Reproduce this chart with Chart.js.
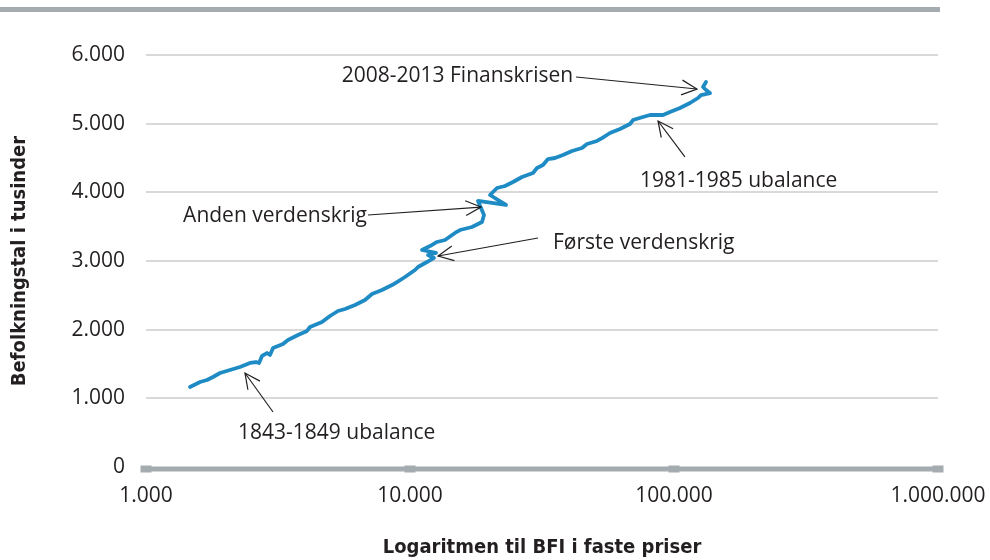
<!DOCTYPE html>
<html>
<head>
<meta charset="utf-8">
<script src="https://cdn.jsdelivr.net/npm/chart.js@4.4.1/dist/chart.umd.min.js"></script>
<style>
  html, body { margin: 0; padding: 0; background: #fff; }
  #wrap { position: relative; width: 990px; height: 560px; }
  #topbar { position: absolute; left: 0; top: 7px; width: 940px; height: 5px; background: #a5acaf; }
  canvas { position: absolute; left: 0; top: 0; }
</style>
</head>
<body>
<div id="wrap">
  <canvas id="chart" width="990" height="560"></canvas>
  <div id="topbar"></div>
</div>
<script>
// BFI i faste priser (x, log-akse) og befolkningstal i tusinder (y)
const bfi = [1468, 1602, 1702, 1794, 1907, 2081, 2270, 2477, 2610, 2680,
  2751, 2873, 2949, 3028, 3303, 3450, 3764, 4073, 4181, 4642,
  4977, 5337, 5673, 6190, 6753, 7178, 7832, 8545, 8926, 9573,
  10446, 10723, 11598, 12328, 11700, 12545, 11103, 11906, 12655, 13569,
  14805, 15465, 17174, 18738, 19068, 18095, 23101, 20095, 21355, 22900,
  24557, 26563, 29235, 30272, 31898, 33320, 35414, 37970, 41078, 44822,
  46819, 51087, 53367, 57224, 62431, 68129, 69936, 76303, 81113, 90851,
  96571, 105370, 114980, 123280, 126550, 136900, 132200, 128780, 132200];
const befolkning = [1165, 1238, 1267, 1311, 1369, 1413, 1456, 1515, 1529, 1515,
  1617, 1660, 1631, 1733, 1791, 1850, 1922, 1981, 2039, 2112,
  2199, 2272, 2301, 2359, 2432, 2519, 2578, 2650, 2694, 2767,
  2869, 2913, 2985, 3044, 3087, 3117, 3160, 3218, 3277, 3306,
  3408, 3451, 3495, 3568, 3670, 3874, 3816, 3961, 4063, 4092,
  4150, 4223, 4282, 4354, 4398, 4485, 4500, 4544, 4602, 4646,
  4704, 4748, 4791, 4864, 4922, 4995, 5053, 5097, 5126, 5126,
  5170, 5228, 5301, 5374, 5417, 5446, 5490, 5534, 5607];

const xTicks = [1000, 10000, 100000, 1000000];
const yTicks = [0, 1000, 2000, 3000, 4000, 5000, 6000];

// pile-annoteringer, i dataenheder
const annotations = [
  { text: '2008-2013 Finanskrisen', tip: [122200, 5505], tail: [42540, 5680], label: [41500, 5690], align: 'right' },
  { text: '1981-1985 ubalance', tip: [87000, 5039], tail: [110000, 4515], label: [74300, 4165], align: 'left' },
  { text: 'Anden verdenskrig', tip: [18570, 3786], tail: [6930, 3670], label: [6870, 3655], align: 'right' },
  { text: 'Første verdenskrig', tip: [12770, 3073], tail: [30540, 3335], label: [34800, 3262], align: 'left' },
  { text: '1843-1849 ubalance', tip: [2371, 1369], tail: [3028, 801], label: [2231, 495], align: 'left' }
];

const textColor = '#231f20';
const axisColor = '#a5acaf';
const tickFont = { family: "'Open Sans', sans-serif", size: 21 };
const titleFont = { family: "'Liberation Sans Narrow', 'DejaVu Sans Condensed', 'Open Sans', sans-serif", size: 20, weight: 'bold' };

function dk(v) {
  return String(v).replace(/\B(?=(\d{3})+(?!\d))/g, '.');
}

// tyk x-akse med firkantede markeringer ved hver dekade
const xAxisLine = {
  id: 'xAxisLine',
  beforeDatasetsDraw(chart) {
    const {ctx, chartArea, scales: {x, y}} = chart;
    const y0 = y.getPixelForValue(0) + 2;
    ctx.save();
    ctx.fillStyle = axisColor;
    ctx.fillRect(chartArea.left, y0 - 2.5, chartArea.right - chartArea.left, 5);
    xTicks.forEach(v => {
      const px = x.getPixelForValue(v);
      ctx.fillRect(px - 5.5, y0 - 3.5, 11, 7);
    });
    ctx.restore();
  }
};

const arrows = {
  id: 'arrows',
  afterDatasetsDraw(chart) {
    const {ctx, scales: {x, y}} = chart;
    ctx.save();
    ctx.strokeStyle = textColor;
    ctx.fillStyle = textColor;
    ctx.lineWidth = 1.2;
    ctx.font = "21px 'Open Sans', sans-serif";
    ctx.textBaseline = 'middle';
    annotations.forEach(a => {
      const tx = x.getPixelForValue(a.tip[0]), ty = y.getPixelForValue(a.tip[1]);
      const sx = x.getPixelForValue(a.tail[0]), sy = y.getPixelForValue(a.tail[1]);
      ctx.beginPath();
      ctx.moveTo(sx, sy);
      ctx.lineTo(tx, ty);
      ctx.stroke();
      const ang = Math.atan2(ty - sy, tx - sx);
      const len = 17, spread = 0.45;
      ctx.beginPath();
      ctx.moveTo(tx - len * Math.cos(ang - spread), ty - len * Math.sin(ang - spread));
      ctx.lineTo(tx, ty);
      ctx.lineTo(tx - len * Math.cos(ang + spread), ty - len * Math.sin(ang + spread));
      ctx.stroke();
      ctx.textAlign = a.align;
      ctx.fillText(a.text, x.getPixelForValue(a.label[0]), y.getPixelForValue(a.label[1]));
    });
    ctx.restore();
  }
};

new Chart(document.getElementById('chart'), {
  type: 'scatter',
  data: {
    datasets: [{
      data: bfi.map((v, i) => ({ x: v, y: befolkning[i] })),
      showLine: true,
      borderColor: '#1f8bc5',
      borderWidth: 3.8,
      borderJoinStyle: 'round',
      borderCapStyle: 'round',
      pointRadius: 0,
      tension: 0
    }]
  },
  options: {
    responsive: false,
    animation: false,
    devicePixelRatio: 1,
    layout: { padding: { top: 55, right: 52, left: 0, bottom: 0 } },
    plugins: { legend: { display: false }, tooltip: { enabled: false } },
    scales: {
      x: {
        type: 'logarithmic',
        min: 1000,
        max: 1000000,
        afterBuildTicks: axis => { axis.ticks = xTicks.map(v => ({ value: v })); },
        afterFit: axis => {
          axis.height = 93;
          axis.paddingLeft = 0;
          axis.paddingRight = 0;
        },
        ticks: {
          callback: v => dk(v),
          color: textColor,
          font: tickFont,
          padding: 16,
          maxRotation: 0,
          autoSkip: false
        },
        grid: { display: false, drawTicks: false },
        border: { display: false },
        title: {
          display: true,
          text: 'Logaritmen til BFI i faste priser',
          color: textColor,
          font: titleFont,
          padding: { top: 0, bottom: 0 }
        }
      },
      y: {
        min: 0,
        max: 6000,
        afterBuildTicks: axis => { axis.ticks = yTicks.map(v => ({ value: v })); },
        afterFit: axis => { axis.width = 146; },
        ticks: {
          callback: v => dk(v),
          color: textColor,
          font: tickFont,
          padding: 21
        },
        grid: {
          drawTicks: false,
          lineWidth: 2,
          color: c => (c.tick && c.tick.value === 0) ? 'rgba(0,0,0,0)' : '#d9d9d9'
        },
        border: { display: false },
        title: {
          display: true,
          text: 'Befolkningstal i tusinder',
          color: textColor,
          font: titleFont,
          padding: { top: 8, bottom: 0 }
        }
      }
    }
  },
  plugins: [xAxisLine, arrows]
});
</script>
</body>
</html>
